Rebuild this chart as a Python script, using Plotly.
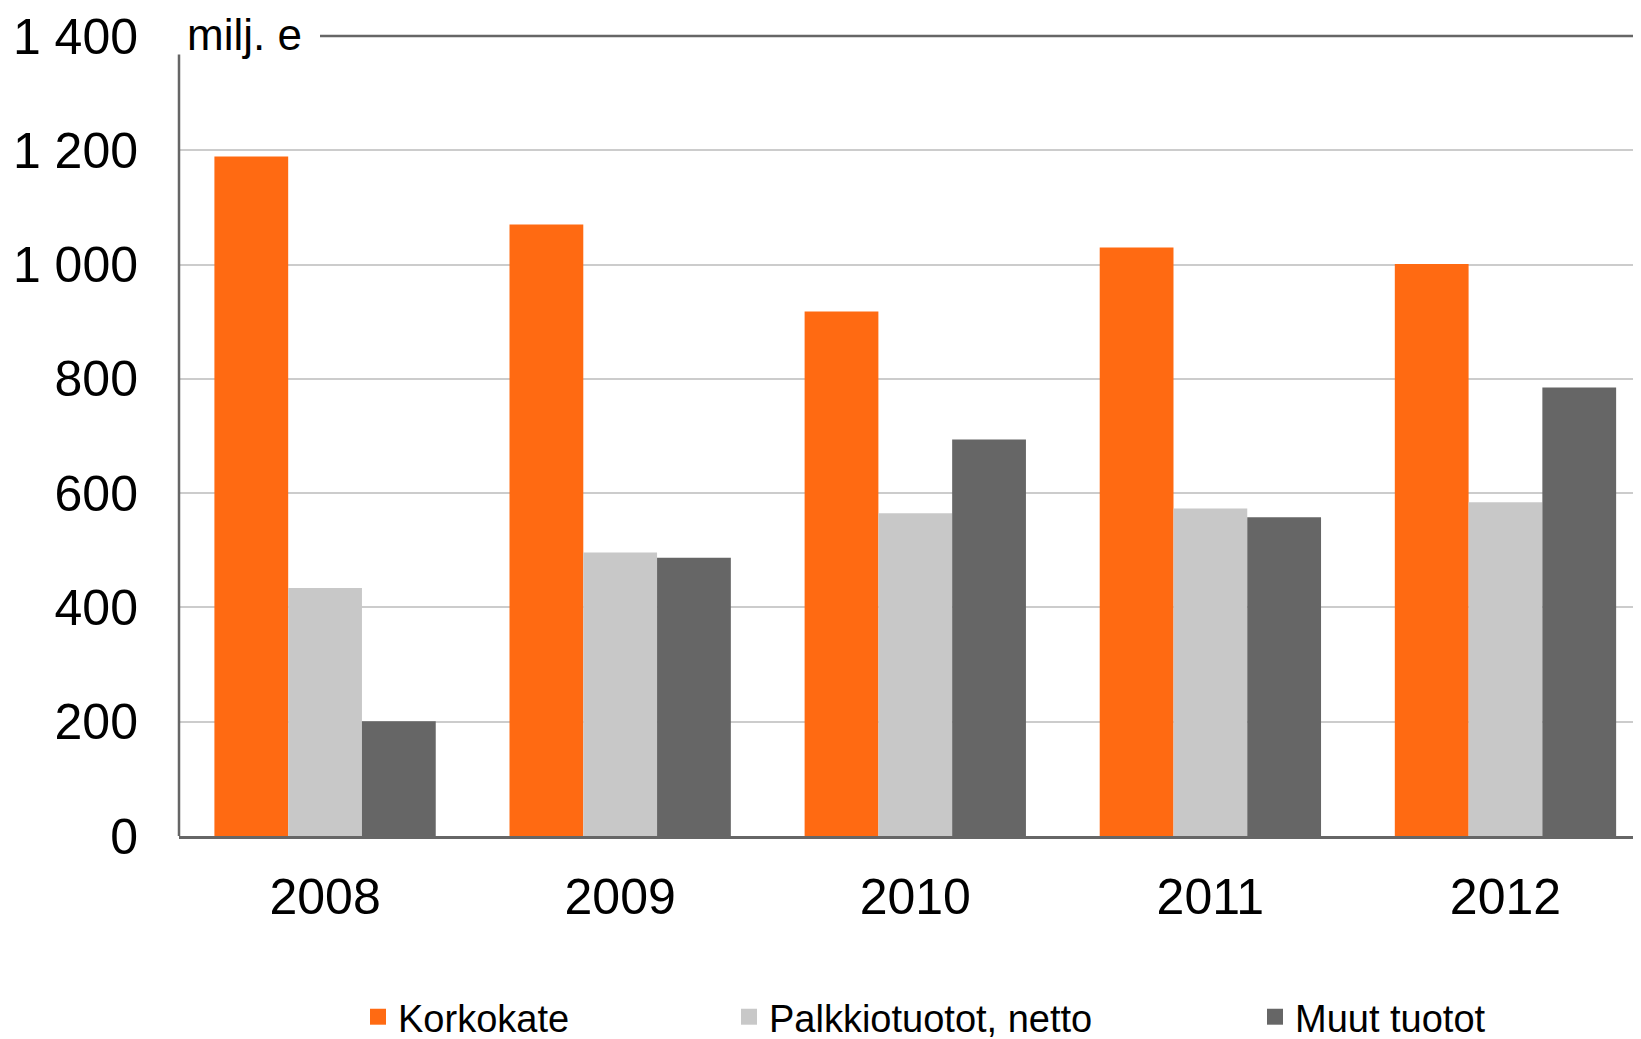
import plotly.graph_objects as go

# values (milj. e)
years = ["2008", "2009", "2010", "2011", "2012"]
korkokate = [1189, 1070, 918, 1030, 1001]
palkkiotuotot = [434, 496, 565, 573, 584]
muut_tuotot = [201, 487, 694, 558, 785]

series_names = ["Korkokate", "Palkkiotuotot, netto", "Muut tuotot"]
series_colors = ["#FF6A12", "#C8C8C8", "#666666"]
y_ticks = [0, 200, 400, 600, 800, 1000, 1200, 1400]

FONT = "Liberation Sans, Arial, sans-serif"
# page body keeps its default 8px margin, so the figure is 8px smaller than the window
W, H = 1633, 1031
L, T, B = 171, 27.6, 202.8
plot_w = W - L
rule_start = (312 - L) / plot_w  # where the dark 1 400 rule begins, after the unit label

fig = go.Figure()
for name, vals, color in zip(series_names, [korkokate, palkkiotuotot, muut_tuotot], series_colors):
    fig.add_trace(go.Bar(x=years, y=vals, name=name, showlegend=False,
                         marker=dict(color=color, line=dict(width=0))))

# legend-only entries with bigger square swatches, one legend each so they can be spaced freely
legend_ids = ["legend", "legend2", "legend3"]
for name, color, lg in zip(series_names, series_colors, legend_ids):
    fig.add_trace(go.Scatter(x=[None], y=[None], mode="markers", name=name, legend=lg,
                             showlegend=True, hoverinfo="skip",
                             marker=dict(symbol="square", size=16, color=color)))

legend_left = [350, 721, 1247]
legend_style = dict(xref="container", yref="container", xanchor="left", yanchor="middle",
                    y=(H - 1009) / H, bgcolor="rgba(0,0,0,0)",
                    font=dict(family=FONT, size=38, color="black"))

fig.update_layout(
    width=W, height=H,
    margin=dict(l=L, r=0, t=T, b=B, autoexpand=False),
    paper_bgcolor="white", plot_bgcolor="white",
    font=dict(family=FONT, size=50, color="black"),
    separators=", ",
    showlegend=True,
    barmode="group", bargap=0.25, bargroupgap=0,
    legend=dict(x=legend_left[0] / W, **legend_style),
    legend2=dict(x=legend_left[1] / W, **legend_style),
    legend3=dict(x=legend_left[2] / W, **legend_style),
    xaxis=dict(type="category", range=[-0.495, -0.495 + plot_w / 295.1], showgrid=False,
               zeroline=False, showline=True, linecolor="#666666", linewidth=2.5, ticks="",
               ticklabelstandoff=15, tickangle=0, tickfont=dict(size=50)),
    yaxis=dict(range=[0, 1400], tickvals=y_ticks, tickformat=",", showgrid=True,
               gridcolor="#CCCCCC", gridwidth=2, zeroline=False, showline=False, ticks="",
               ticklabelstandoff=40, tickfont=dict(size=50)),
    shapes=[
        # hide the light 1 400 gridline under the unit label
        dict(type="rect", xref="paper", yref="paper", x0=0, x1=rule_start, y0=0.99, y1=1.01,
             fillcolor="white", line=dict(width=0), layer="above"),
        # y axis line stops below the unit label
        dict(type="line", xref="paper", yref="paper", x0=0, x1=0, y0=0, y1=0.977,
             line=dict(color="#666666", width=2.5)),
        # dark top rule at 1 400
        dict(type="line", xref="paper", yref="paper", x0=rule_start, x1=1, y0=1, y1=1,
             line=dict(color="#666666", width=2.5)),
    ],
    annotations=[
        dict(text="milj. e", xref="paper", yref="paper", x=0, y=1, xanchor="left", yanchor="middle",
             xshift=7, yshift=2, showarrow=False, borderpad=0,
             font=dict(family=FONT, size=44, color="black")),
    ],
)

fig.write_html("out.html")
